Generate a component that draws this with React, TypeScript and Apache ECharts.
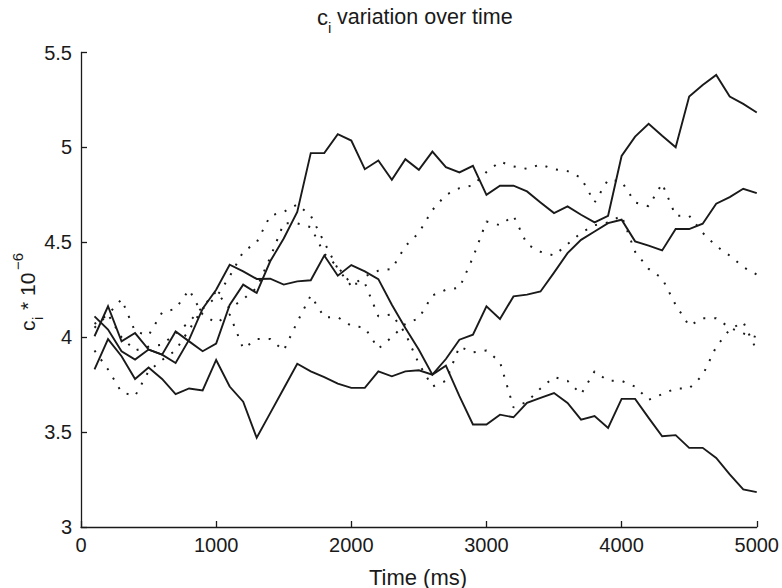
import React, { useEffect, useRef } from "react";
import * as echarts from "echarts";

const timeMs = [
  100, 200, 300, 400, 500, 600, 700, 800, 900, 1000,
  1100, 1200, 1300, 1400, 1500, 1600, 1700, 1800, 1900, 2000,
  2100, 2200, 2300, 2400, 2500, 2600, 2700, 2800, 2900, 3000,
  3100, 3200, 3300, 3400, 3500, 3600, 3700, 3800, 3900, 4000,
  4100, 4200, 4300, 4400, 4500, 4600, 4700, 4800, 4900, 5000,
];

const solidA = [
  4.005, 4.163, 3.978, 4.022, 3.935, 3.908, 4.03, 3.978, 3.926, 3.966,
  4.17, 4.277, 4.233, 4.4, 4.52, 4.66, 4.97, 4.97, 5.07, 5.036,
  4.885, 4.931, 4.829, 4.938, 4.882, 4.978, 4.896, 4.868, 4.903, 4.75,
  4.798, 4.798, 4.768, 4.71, 4.654, 4.689, 4.645, 4.605, 4.64, 4.955,
  5.057, 5.124, 5.061, 5.001, 5.268, 5.329, 5.382, 5.268, 5.229, 5.184,
];

const solidB = [
  4.11, 4.04, 3.926, 3.882, 3.935, 3.908, 3.864, 3.987, 4.15, 4.25,
  4.382, 4.347, 4.307, 4.308, 4.277, 4.294, 4.3, 4.43, 4.324, 4.38,
  4.347, 4.306, 4.171, 4.048, 3.934, 3.803, 3.885, 3.987, 4.013, 4.163,
  4.096, 4.215, 4.224, 4.241, 4.34, 4.443, 4.513, 4.557, 4.601, 4.619,
  4.505, 4.482, 4.457, 4.57, 4.57, 4.598, 4.703, 4.738, 4.782, 4.759,
];

const solidC = [
  3.83, 3.99, 3.9, 3.78, 3.84, 3.78, 3.7, 3.73, 3.72, 3.88,
  3.74, 3.66, 3.47, 3.6, 3.73, 3.86, 3.82, 3.79, 3.755, 3.733,
  3.733, 3.82, 3.794, 3.82, 3.826, 3.803, 3.85, 3.689, 3.54, 3.54,
  3.592, 3.578, 3.654, 3.68, 3.706, 3.654, 3.566, 3.584, 3.522, 3.675,
  3.675, 3.575, 3.478, 3.484, 3.417, 3.417, 3.364, 3.277, 3.198, 3.184,
];

const dottedD1 = [
  4.07, 4.12, 4.2, 4.03, 4.01, 4.13, 4.15, 4.25, 4.12, 4.075,
  4.12, 3.94, 3.99, 3.99, 3.93, 4.08, 4.22, 4.105, 4.105, 4.06,
  4.05, 3.94, 4.0, 4.07, 4.1, 4.22, 4.25, 4.26, 4.42, 4.61,
  4.59, 4.64, 4.49, 4.45, 4.43, 4.49, 4.55, 4.59, 4.605, 4.64,
  4.45, 4.36, 4.31, 4.17, 4.06, 4.1, 4.1, 4.05, 4.02, 4.0,
];

const dottedD2 = [
  3.93, 3.83, 3.71, 3.69, 3.82, 3.88, 3.93, 4.04, 4.15, 4.21,
  4.32, 4.45, 4.5, 4.64, 4.66, 4.7, 4.64, 4.5, 4.36, 4.27,
  4.32, 4.35, 4.36, 4.48, 4.55, 4.67, 4.75, 4.785, 4.8, 4.87,
  4.925, 4.9, 4.887, 4.91, 4.885, 4.875, 4.84, 4.71, 4.83, 4.82,
  4.71, 4.69, 4.81, 4.64, 4.64, 4.55, 4.48, 4.43, 4.37, 4.33,
];

const dottedD3 = [
  4.05, 4.12, 4.0, 3.93, 3.95, 3.96, 4.02, 4.08, 4.16, 4.24,
  4.15, 4.2, 4.26, 4.42, 4.6, 4.6, 4.58, 4.44, 4.37, 4.28,
  4.285, 4.11, 4.12, 4.02, 3.86, 3.74, 3.77, 3.95, 3.92, 3.93,
  3.87, 3.63, 3.66, 3.73, 3.79, 3.77, 3.7, 3.82, 3.77, 3.77,
  3.74, 3.67, 3.7, 3.73, 3.73, 3.8, 3.95, 4.04, 4.08, 3.93,
];

const xTicks = [0, 1000, 2000, 3000, 4000, 5000];
const yTicks = [3, 3.5, 4, 4.5, 5, 5.5];

const FONT = "'Liberation Sans', Arial, Helvetica, sans-serif";
const INK = "#1a1a1a";

export default function App() {
  const ref = useRef<HTMLDivElement>(null);

  useEffect(() => {
    if (!ref.current) return;
    const chart = echarts.init(ref.current, null, { renderer: "svg" });

    const makeSeries = (name: string, vals: number[], dotted: boolean) => ({
      name,
      type: "line",
      data: timeMs.map((t, i) => [t, vals[i]]),
      symbol: "none",
      silent: true,
      lineStyle: dotted
        ? { color: INK, width: 2, type: [2, 9], cap: "butt" }
        : { color: INK, width: 1.9, type: "solid", join: "miter" },
      z: dotted ? 2 : 3,
    });

    const txt = (text: string, x: number, y: number, size: number, align = "left") => ({
      type: "text",
      x,
      y,
      style: {
        text,
        fontSize: size,
        fontFamily: FONT,
        fill: INK,
        textAlign: align,
        textVerticalAlign: "middle",
      },
      silent: true,
    });

    chart.setOption({
      animation: false,
      backgroundColor: "#ffffff",
      grid: { left: 81, right: 25, top: 52.5, bottom: 61, containLabel: false },
      xAxis: {
        type: "value",
        min: xTicks[0],
        max: xTicks[xTicks.length - 1],
        interval: 1000,
        axisLine: { show: true, lineStyle: { color: INK, width: 1.3 } },
        axisTick: { show: true, inside: true, length: 6, lineStyle: { color: INK, width: 1.3 } },
        axisLabel: {
          color: INK,
          fontSize: 20,
          fontFamily: FONT,
          margin: 8,
          formatter: (v: number) => String(v),
        },
        splitLine: { show: false },
      },
      yAxis: {
        type: "value",
        min: yTicks[0],
        max: yTicks[yTicks.length - 1],
        interval: 0.5,
        axisLine: { show: true, lineStyle: { color: INK, width: 1.3 } },
        axisTick: { show: true, inside: true, length: 6, lineStyle: { color: INK, width: 1.3 } },
        axisLabel: {
          color: INK,
          fontSize: 20,
          fontFamily: FONT,
          margin: 9,
          formatter: (v: number) => String(v),
        },
        splitLine: { show: false },
      },
      graphic: [
        // title: c_i variation over time
        txt("c", 317, 17, 22),
        txt("i", 328, 27, 15),
        txt("variation over time", 337, 17, 21.5),
        // x axis name
        txt("Time (ms)", 418, 577, 22, "center"),
        // y axis name (rotated): c_i * 10^-6
        {
          type: "group",
          x: 27,
          y: 331,
          rotation: Math.PI / 2,
          silent: true,
          children: [
            txt("c", 0, 0, 21),
            txt("i", 11, 10, 15),
            txt("* 10", 21, 0, 21),
            txt("\u22126", 61, -10, 15),
          ],
        },
      ],
      series: [
        makeSeries("dotted1", dottedD1, true),
        makeSeries("dotted2", dottedD2, true),
        makeSeries("dotted3", dottedD3, true),
        makeSeries("solidA", solidA, false),
        makeSeries("solidB", solidB, false),
        makeSeries("solidC", solidC, false),
      ],
    });

    return () => chart.dispose();
  }, []);

  return (
    <div
      ref={ref}
      style={{ position: "fixed", left: 0, top: 0, width: 782, height: 588, background: "#fff" }}
    />
  );
}
